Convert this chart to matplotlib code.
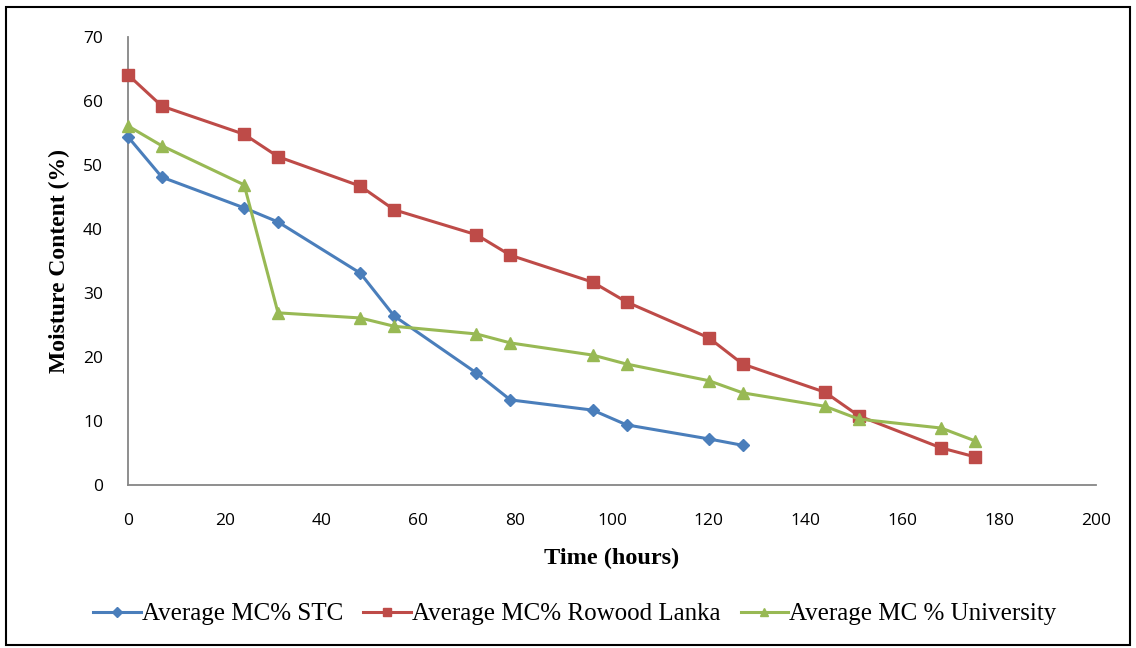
import matplotlib
matplotlib.use("Agg")
import matplotlib.pyplot as plt
from matplotlib.patches import Rectangle

time_stc = [0, 7, 24, 31, 48, 55, 72, 79, 96, 103, 120, 127]
mc_stc = [54.4, 48.1, 43.3, 41.1, 33.1, 26.4, 17.5, 13.3, 11.7, 9.4, 7.2, 6.2]

time_rl = [0, 7, 24, 31, 48, 55, 72, 79, 96, 103, 120, 127, 144, 151, 168, 175]
mc_rl = [64.1, 59.2, 54.8, 51.3, 46.7, 43.0, 39.1, 35.9, 31.7, 28.6, 23.0, 18.9, 14.5, 10.8, 5.8, 4.4]

time_uni = [0, 7, 24, 31, 48, 55, 72, 79, 96, 103, 120, 127, 144, 151, 168, 175]
mc_uni = [56.1, 53.0, 46.9, 26.9, 26.1, 24.8, 23.6, 22.2, 20.3, 18.9, 16.3, 14.4, 12.3, 10.3, 8.9, 6.9]

labels = ["Average MC% STC", "Average MC% Rowood Lanka", "Average MC % University"]
xticks = [0, 20, 40, 60, 80, 100, 120, 140, 160, 180, 200]
yticks = [0, 10, 20, 30, 40, 50, 60, 70]

W, H = 1136, 648
fig = plt.figure(figsize=(W / 100, H / 100), dpi=100)
ax = fig.add_axes([128 / W, 1 - 485 / H, (1096 - 128) / W, (485 - 37) / H])

ax.plot(time_stc, mc_stc, color="#4a7ebb", marker="D", markersize=6, lw=2.2, label=labels[0], clip_on=False, zorder=3)
ax.plot(time_rl, mc_rl, color="#be4b48", marker="s", markersize=8, lw=2.2, label=labels[1], clip_on=False, zorder=3)
ax.plot(time_uni, mc_uni, color="#98b954", marker="^", markersize=8, lw=2.2, label=labels[2], clip_on=False, zorder=3)

ax.set_xlim(0, 200)
ax.set_ylim(0, 70)
ax.set_xticks(xticks)
ax.set_yticks(yticks)
ax.tick_params(length=0, labelsize=12.5)
for lab in ax.get_xticklabels() + ax.get_yticklabels():
    lab.set_family("Open Sans")
ax.tick_params(axis="y", pad=18)
ax.tick_params(axis="x", pad=20)
for s in ["top", "right"]:
    ax.spines[s].set_visible(False)
for s in ["left", "bottom"]:
    ax.spines[s].set_color("#868686")
    ax.spines[s].set_linewidth(1.3)

ax.set_xlabel("Time (hours)", family="Liberation Serif", fontweight="bold", fontsize=17.5, labelpad=14)
ax.set_ylabel("Moisture Content (%)", family="Liberation Serif", fontweight="bold", fontsize=17, labelpad=9)

fig.legend(loc="center", bbox_to_anchor=(575 / W, 1 - 614 / H), ncol=3, frameon=False,
           prop={"family": "Liberation Serif", "size": 18}, handlelength=1.9, columnspacing=0.8,
           handletextpad=0.05, markerscale=0.8)

fig.patches.append(Rectangle((6 / W, 3 / H), (1130 - 6) / W, (641 - 3) / H, transform=fig.transFigure,
                             fill=False, edgecolor="black", lw=1.5))

fig.savefig("out.png", dpi=100)
